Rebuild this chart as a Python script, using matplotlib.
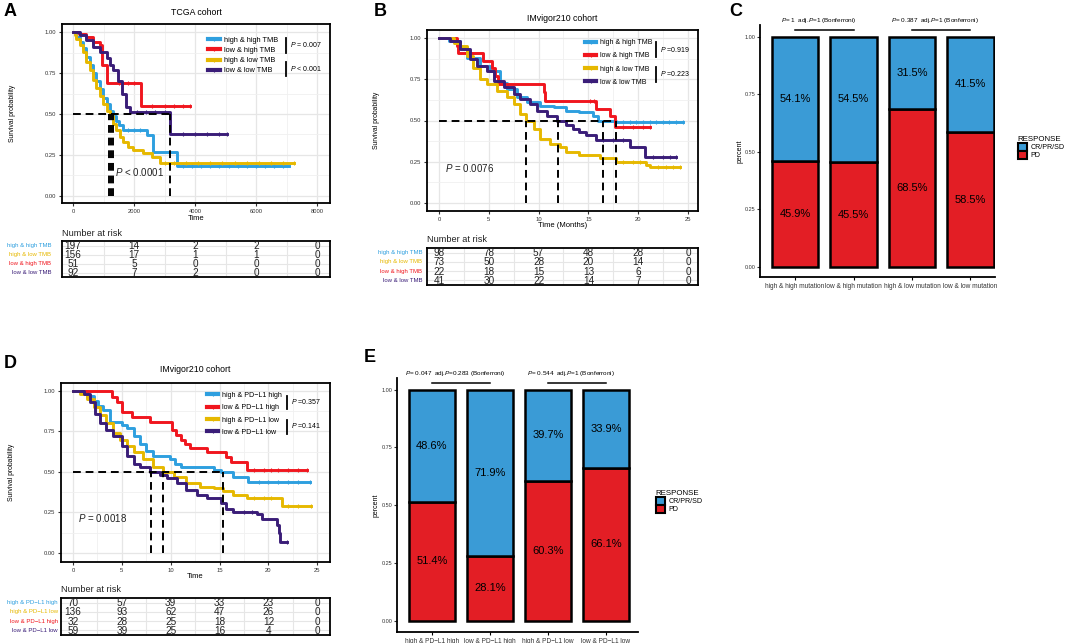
import numpy as np
import matplotlib.pyplot as plt
from matplotlib.lines import Line2D
from matplotlib.patches import Patch
from matplotlib.ticker import MultipleLocator

plt.rcParams['font.family'] = ['Liberation Sans', 'DejaVu Sans']
plt.rcParams['mathtext.fontset'] = 'custom'
plt.rcParams['mathtext.it'] = 'Liberation Sans:italic'
plt.rcParams['mathtext.rm'] = 'Liberation Sans'

BLUE = '#2E9FDF'
RED = '#F0161E'
YELLOW = '#E6B800'
PURPLE = '#3A1D78'
BAR_BLUE = '#3A9BD6'
BAR_RED = '#E31E25'

# ---- A: TCGA cohort (time in days) ----
a_high_high = [(0, 1.0), (110, 0.97), (220, 0.94), (330, 0.90), (440, 0.85), (550, 0.80), (660, 0.75),
               (770, 0.70), (880, 0.65), (990, 0.60), (1100, 0.56), (1200, 0.52), (1300, 0.49), (1400, 0.46),
               (1520, 0.43), (1640, 0.40), (2410, 0.37), (2630, 0.27), (3400, 0.18), (7080, 0.18)]
a_low_high = [(0, 1.0), (200, 0.99), (440, 0.97), (660, 0.94), (880, 0.92), (960, 0.80), (1100, 0.69),
              (2230, 0.55), (3820, 0.55)]
a_high_low = [(0, 1.0), (60, 0.98), (110, 0.96), (220, 0.92), (330, 0.88), (440, 0.82), (550, 0.77),
              (660, 0.71), (770, 0.66), (880, 0.61), (990, 0.56), (1100, 0.52), (1200, 0.49), (1310, 0.44),
              (1420, 0.40), (1530, 0.36), (1640, 0.33), (1800, 0.30), (1970, 0.28), (2300, 0.26),
              (2600, 0.24), (2850, 0.20), (7250, 0.20)]
a_low_low = [(0, 1.0), (220, 0.98), (440, 0.95), (660, 0.91), (880, 0.88), (1100, 0.84), (1200, 0.80),
             (1320, 0.77), (1480, 0.70), (1590, 0.62), (1750, 0.54), (1860, 0.51), (3180, 0.38), (5050, 0.38)]
a_cens_high_high = [1800, 2000, 2200, 3600, 3900, 4200, 4500, 4800, 5100, 5400, 5700, 6000, 6300, 6600, 6900]
a_cens_low_high = [1500, 1800, 2000, 2600, 3000, 3300, 3600, 3820]
a_cens_high_low = [3000, 3300, 3700, 4100, 4500, 4900, 5300, 5700, 6100, 6500, 6900, 7250]
a_cens_low_low = [2100, 2400, 2700, 3000, 3600, 4000, 4400, 4800, 5050]
a_medians = [1190, 1240, 1300, 3180]
a_risk_labels = ['high & high TMB', 'high & low TMB', 'low & high TMB', 'low & low TMB']
a_risk = [[197, 14, 2, 2, 0], [156, 17, 1, 1, 0], [51, 5, 0, 0, 0], [92, 7, 2, 0, 0]]
a_times = [0, 2000, 4000, 6000, 8000]

# ---- B: IMvigor210 TMB (months) ----
b_high_high = [(0, 1.0), (1, 0.98), (2.1, 0.94), (2.8, 0.88), (4.1, 0.83), (5.1, 0.80), (6.1, 0.73),
               (6.8, 0.69), (7.8, 0.64), (8.8, 0.61), (10.1, 0.59), (11.5, 0.58), (12.8, 0.56), (14.1, 0.55),
               (15.5, 0.53), (16.0, 0.50), (17.8, 0.49), (24.5, 0.49)]
b_low_high = [(0, 1.0), (1.8, 0.95), (1.95, 0.91), (4.45, 0.86), (5.3, 0.82), (5.6, 0.77), (5.95, 0.72),
              (10.5, 0.67), (10.6, 0.62), (15.8, 0.57), (17.2, 0.53), (17.7, 0.46), (21.2, 0.46)]
b_high_low = [(0, 1.0), (1.5, 0.97), (2.1, 0.95), (2.8, 0.89), (3.4, 0.82), (4.1, 0.75), (4.8, 0.72),
              (5.8, 0.68), (6.8, 0.64), (7.5, 0.60), (8.1, 0.54), (8.7, 0.50), (9.5, 0.45), (10.1, 0.39),
              (11.1, 0.355), (12.1, 0.34), (12.8, 0.31), (14.1, 0.29), (16.2, 0.27), (17.8, 0.25),
              (20.8, 0.23), (21.2, 0.22), (24.2, 0.22)]
b_low_low = [(0, 1.0), (1.1, 0.98), (2.1, 0.93), (3.1, 0.87), (3.8, 0.83), (4.8, 0.80), (5.5, 0.74),
             (6.5, 0.70), (7.5, 0.66), (8.1, 0.63), (9.1, 0.60), (9.8, 0.56), (10.8, 0.53), (11.8, 0.50),
             (12.8, 0.47), (13.5, 0.45), (14.1, 0.43), (14.8, 0.41), (15.8, 0.38), (19.2, 0.34),
             (20.7, 0.28), (23.8, 0.28)]
b_cens_high_high = [18.5, 19.2, 19.8, 20.5, 21.2, 21.8, 22.5, 23.1, 23.8, 24.5]
b_cens_low_high = [15.2, 15.6, 18.5, 19.5, 20.5, 21.2]
b_cens_high_low = [18.5, 19.5, 20.2, 22.0, 22.8, 23.5, 24.2]
b_cens_low_low = [16.5, 17.5, 18.5, 21.5, 22.5, 23.2, 23.8]
b_medians = [8.7, 11.9, 16.5, 17.8]
b_risk = [[98, 78, 57, 48, 28, 0], [73, 50, 28, 20, 14, 0], [22, 18, 15, 13, 6, 0], [41, 30, 22, 14, 7, 0]]
b_times = [0, 5, 10, 15, 20, 25]

# ---- D: IMvigor210 PD-L1 (months) ----
d_high_high = [(0, 1.0), (1.4, 0.97), (2.1, 0.94), (2.6, 0.91), (3.1, 0.88), (3.8, 0.81), (5.0, 0.79),
               (5.5, 0.77), (6.2, 0.72), (6.9, 0.67), (7.5, 0.63), (8.2, 0.60), (9.9, 0.58), (10.4, 0.55),
               (11.0, 0.53), (14.4, 0.51), (15.1, 0.50), (16.4, 0.47), (17.9, 0.44), (24.3, 0.44)]
d_low_high = [(0, 1.0), (4.0, 0.96), (4.5, 0.93), (5.0, 0.87), (6.0, 0.84), (7.9, 0.81), (10.1, 0.76),
              (10.5, 0.73), (11.0, 0.70), (11.5, 0.67), (12.0, 0.65), (13.7, 0.62), (15.7, 0.59),
              (16.2, 0.56), (17.8, 0.51), (23.9, 0.51)]
d_high_low = [(0, 1.0), (0.7, 0.98), (1.4, 0.95), (2.1, 0.90), (2.8, 0.85), (3.4, 0.80), (4.1, 0.74),
              (4.8, 0.70), (5.5, 0.66), (6.2, 0.62), (7.2, 0.58), (8.2, 0.53), (9.2, 0.50), (10.3, 0.47),
              (11.6, 0.43), (13.0, 0.41), (14.4, 0.40), (15.4, 0.385), (16.4, 0.36), (17.8, 0.34),
              (21.4, 0.29), (24.4, 0.29)]
d_low_low = [(0, 1.0), (1.1, 0.98), (1.7, 0.93), (2.3, 0.86), (2.8, 0.80), (3.4, 0.76), (4.1, 0.72),
             (5.0, 0.66), (5.5, 0.60), (6.2, 0.55), (6.9, 0.53), (7.9, 0.50), (8.9, 0.48), (9.6, 0.46),
             (10.6, 0.43), (11.6, 0.39), (12.7, 0.36), (13.7, 0.34), (15.1, 0.31), (15.7, 0.27),
             (16.4, 0.25), (18.8, 0.24), (19.3, 0.21), (20.9, 0.17), (21.1, 0.12), (21.2, 0.07), (21.9, 0.07)]
d_cens_high_high = [19.0, 20.0, 21.0, 22.0, 23.0, 24.3]
d_cens_low_high = [18.5, 19.5, 20.3, 21.0, 22.0, 23.0, 23.9]
d_cens_high_low = [18.5, 19.5, 20.3, 22.0, 23.0, 24.4]
d_cens_low_low = [17.5, 18.3, 21.9]
d_medians = [7.95, 9.2, 15.4]
d_risk_labels = ['high & PD\u2212L1 high', 'high & PD\u2212L1 low', 'low & PD\u2212L1 high', 'low & PD\u2212L1 low']
d_risk = [[70, 57, 39, 33, 23, 0], [136, 93, 62, 47, 26, 0], [32, 28, 25, 18, 12, 0], [59, 39, 25, 16, 4, 0]]

# ---- C / E: response bars (%) ----
c_groups = ['high & high mutation', 'low & high mutation', 'high & low mutation', 'low & low mutation']
c_pd = [45.9, 45.5, 68.5, 58.5]
c_cr = [54.1, 54.5, 31.5, 41.5]
e_groups = ['high & PD\u2212L1 high', 'low & PD\u2212L1 high', 'high & PD\u2212L1 low', 'low & PD\u2212L1 low']
e_pd = [51.4, 28.1, 60.3, 66.1]
e_cr = [48.6, 71.9, 39.7, 33.9]

W, H = 1065, 643
fig = plt.figure(figsize=(W / 100, H / 100), dpi=100)


def px_axes(l, t, r, b):
    return fig.add_axes([l / W, 1 - b / H, (r - l) / W, (b - t) / H])


def step_at(curve, t):
    ts = [p[0] for p in curve]
    i = np.searchsorted(ts, t, side='right') - 1
    return curve[max(i, 0)][1]


def km_panel(box, tbox, curves, colors, censors, medians, xlim, major, ylim,
             title, title_off, xlabel, xlab_off, leg_labels, leg_anchor, leg_space, leg_size, pvals,
             bar_x, pbar, ptext, risk, risk_labels, risk_colors, times, label_x, pmain):
    ax = px_axes(*box)
    ax.set_xlim(*xlim)
    ax.set_ylim(*ylim)
    ax.xaxis.set_major_locator(MultipleLocator(major))
    ax.xaxis.set_minor_locator(MultipleLocator(major / 2))
    ax.yaxis.set_major_locator(MultipleLocator(0.25))
    ax.yaxis.set_minor_locator(MultipleLocator(0.125))
    ax.yaxis.set_major_formatter(plt.FormatStrFormatter('%.2f'))
    ax.grid(which='major', color='#E6E6E6', lw=0.9)
    ax.grid(which='minor', color='#F0F0F0', lw=0.6)
    ax.set_axisbelow(True)
    ax.tick_params(labelsize=4.2, length=2, width=0.8, colors='#333333', pad=2)
    ax.tick_params(which='minor', length=0)
    for s in ax.spines.values():
        s.set_linewidth(1.3)
    for curve, c, cens in zip(curves, colors, censors):
        ax.step([p[0] for p in curve], [p[1] for p in curve], where='post', color=c, lw=2.1, zorder=3)
        ax.plot(cens, [step_at(curve, t) for t in cens], ls='none', marker='|', ms=3.5,
                mew=0.8, color=c, zorder=3)
    ax.plot([0, max(medians)], [0.5, 0.5], color='black', lw=1.4, ls=(0, (4, 2.5)), zorder=4)
    for m in medians:
        ax.plot([m, m], [0, 0.5], color='black', lw=1.4, ls=(0, (4, 2.5)), zorder=4)
    ax.text(pmain[0], pmain[1], pmain[2], fontsize=7, color='#222222', zorder=5)
    ax.text(0.5, 1 + title_off, title, transform=ax.transAxes, ha='center', va='center', fontsize=6.3)
    ax.text(0.5, -xlab_off, xlabel, transform=ax.transAxes, ha='center', va='center', fontsize=5.5)
    ax.text(-0.185, 0.5, 'Survival probability', transform=ax.transAxes, rotation=90,
            ha='center', va='center', fontsize=4.9)
    handles = [Line2D([0], [0], color=c, lw=3, marker='|', ms=3, mew=0.8) for c in colors]
    ax.legend(handles, leg_labels, loc='upper left', bbox_to_anchor=leg_anchor, frameon=False,
              fontsize=leg_size, handlelength=1.6, handletextpad=0.5, labelspacing=leg_space,
              borderpad=0, borderaxespad=0)
    for (y0, y1), ty, txt in zip(pbar, ptext, pvals):
        ax.plot([bar_x, bar_x], [y0, y1], transform=ax.transAxes,
                color='black', lw=1.3, clip_on=False)
        ax.text(bar_x + 0.014, ty, txt, transform=ax.transAxes, fontsize=5, va='center')

    tb = px_axes(*tbox)
    tb.set_xlim(*xlim)
    tb.set_ylim(4.5, 0.5)
    tb.set_xticks(times)
    tb.xaxis.set_minor_locator(MultipleLocator(major / 2))
    tb.set_yticks([1, 2, 3, 4])
    tb.grid(which='both', color='#E6E6E6', lw=0.8)
    tb.set_axisbelow(True)
    tb.tick_params(which='both', length=0, labelbottom=False, labelleft=False)
    for s in tb.spines.values():
        s.set_linewidth(1.3)
    for r, (row, lab, col) in enumerate(zip(risk, risk_labels, risk_colors)):
        for t, n in zip(times, row):
            tb.text(t, r + 1.05, str(n), ha='center', va='center', fontsize=7.2, color='#222222')
        tb.text(label_x, r + 1, lab, transform=tb.get_yaxis_transform(), ha='right', va='center',
                fontsize=4.3, color=col)
    tb.text(0, 1.22, 'Number at risk', transform=tb.transAxes, ha='left', va='center',
            fontsize=6.6, color='#222222')
    return ax


tmb_labels = ['high & high TMB', 'low & high TMB', 'high & low TMB', 'low & low TMB']
km_colors = [BLUE, RED, YELLOW, PURPLE]
risk_colors = [BLUE, YELLOW, RED, PURPLE]

km_panel((62, 24, 330, 203), (62, 241, 330, 277),
         [a_high_high, a_low_high, a_high_low, a_low_low], km_colors,
         [a_cens_high_high, a_cens_low_high, a_cens_high_low, a_cens_low_low], a_medians,
         (-361, 8426), 2000, (-0.043, 1.049), 'TCGA cohort', 0.062, 'Time', 0.085,
         tmb_labels, (0.545, 0.93), 0.42, 5.3, [r'$\it{P}$ = 0.007', r'$\it{P}$ < 0.001'], 0.836,
         [(0.922, 0.838), (0.788, 0.709)], [0.888, 0.754],
         a_risk, a_risk_labels, risk_colors, a_times, -0.041,
         (1380, 0.12, r'$\it{P}$ < 0.0001'))

km_panel((427, 30, 698, 211), (427, 248, 698, 285),
         [b_high_high, b_low_high, b_high_low, b_low_low], km_colors,
         [b_cens_high_high, b_cens_low_high, b_cens_high_low, b_cens_low_low], b_medians,
         (-1.2, 26.0), 5, (-0.048, 1.048), 'IMvigor210 cohort', 0.061, 'Time (Months)', 0.08,
         tmb_labels, (0.583, 0.95), 0.9, 5.0, [r'$\it{P}$ =0.919', r'$\it{P}$ =0.223'], 0.845,
         [(0.934, 0.851), (0.796, 0.713)], [0.895, 0.757],
         b_risk, a_risk_labels, risk_colors, b_times, -0.018,
         (0.6, 0.19, r'$\it{P}$ = 0.0076'))

km_panel((61, 383, 330, 562), (61, 598, 330, 635),
         [d_high_high, d_low_high, d_high_low, d_low_low], km_colors,
         [d_cens_high_high, d_cens_low_high, d_cens_high_low, d_cens_low_low], d_medians,
         (-1.23, 26.3), 5, (-0.056, 1.049), 'IMvigor210 cohort', 0.078, 'Time', 0.08,
         ['high & PD\u2212L1 high', 'low & PD\u2212L1 high', 'high & PD\u2212L1 low', 'low & PD\u2212L1 low'],
         (0.543, 0.95), 0.75, 5.1, [r'$\it{P}$ =0.357', r'$\it{P}$ =0.141'], 0.842,
         [(0.927, 0.855), (0.793, 0.715)], [0.894, 0.76],
         d_risk, d_risk_labels, risk_colors, b_times, -0.011,
         (0.55, 0.19, r'$\it{P}$ = 0.0018'))


def bar_panel(box, groups, pd_vals, cr_vals, xlim, ylim, notes, leg_pos, ylab_off):
    ax = px_axes(*box)
    x = np.arange(len(groups))
    pd_f = np.array(pd_vals) / 100
    cr_f = np.array(cr_vals) / 100
    ax.bar(x, pd_f, width=0.8, color=BAR_RED, edgecolor='black', lw=1.8)
    ax.bar(x, cr_f, bottom=pd_f, width=0.8, color=BAR_BLUE, edgecolor='black', lw=1.8)
    for xi, p, c in zip(x, pd_f, cr_f):
        ax.text(xi, p / 2, f'{p * 100:.1f}%', ha='center', va='center', fontsize=8)
        ax.text(xi, p + c / 2, f'{c * 100:.1f}%', ha='center', va='center', fontsize=8)
    ax.set_xlim(*xlim)
    ax.set_ylim(*ylim)
    ax.set_xticks(x)
    ax.set_xticklabels(groups, fontsize=4.7, color='#333333')
    ax.set_yticks([0, 0.25, 0.5, 0.75, 1.0])
    ax.yaxis.set_major_formatter(plt.FormatStrFormatter('%.2f'))
    ax.tick_params(axis='y', labelsize=4, length=2, width=0.8, colors='#333333', pad=1.5)
    ax.tick_params(axis='x', length=2.5, width=0.8, pad=1.5)
    for s in ['top', 'right']:
        ax.spines[s].set_visible(False)
    for s in ['left', 'bottom']:
        ax.spines[s].set_linewidth(1.3)
    ax.set_ylabel('percent', fontsize=5, labelpad=ylab_off)
    for (i0, i1), txt in notes:
        ax.plot([i0, i1], [1.03, 1.03], color='black', lw=1.1, clip_on=False)
        ax.text((i0 + i1) / 2 - 0.1, 1.068, txt, ha='center', va='center', fontsize=4.6)
    handles = [Patch(facecolor=BAR_BLUE, edgecolor='black', lw=1.5),
               Patch(facecolor=BAR_RED, edgecolor='black', lw=1.5)]
    ax.legend(handles, ['CR/PR/SD', 'PD'], title='RESPONSE', loc='upper left',
              bbox_to_anchor=(leg_pos[0] / W, 1 - leg_pos[1] / H), bbox_transform=fig.transFigure,
              frameon=False, fontsize=5.1, title_fontsize=5.7, handlelength=1.3, handleheight=1.4,
              handletextpad=0.5, labelspacing=0.0, borderpad=0, alignment='left')


bar_panel((760, 25, 995, 277), c_groups, c_pd, c_cr, (-0.6, 3.42), (-0.043, 1.05),
          [((0, 1), r'$\it{P}$= 1  adj.$\it{P}$=1 (Bonferroni)'),
           ((2, 3), r'$\it{P}$= 0.387  adj.$\it{P}$=1 (Bonferroni)')], (1014, 132), 0.5)
bar_panel((397, 378, 638, 632), e_groups, e_pd, e_cr, (-0.6, 3.55), (-0.048, 1.05),
          [((0, 1), r'$\it{P}$= 0.047  adj.$\it{P}$=0.283 (Bonferroni)'),
           ((2, 3), r'$\it{P}$= 0.544  adj.$\it{P}$=1 (Bonferroni)')], (652, 486), 1)

for letter, (x, y) in zip('ABCDE', [(10, 12), (380, 12), (736, 12), (10, 363), (370, 357)]):
    fig.text(x / W, 1 - y / H, letter, fontsize=13, fontweight='bold', ha='center', va='center')

fig.savefig('out.png', dpi=100)
